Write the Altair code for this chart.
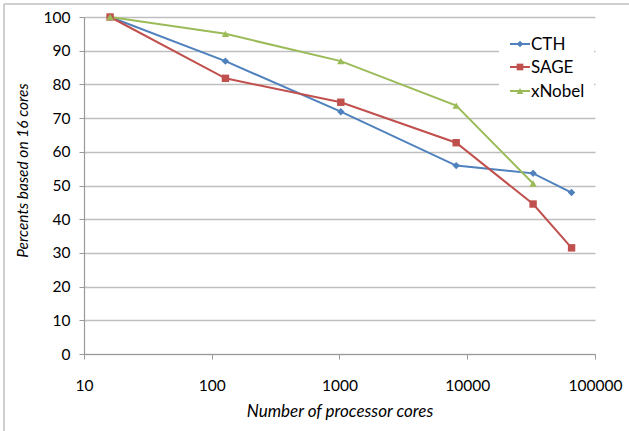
import altair as alt
import pandas as pd

cores = [16, 128, 1024, 8192, 32768, 65536]
cth = [100, 86.9, 71.9, 55.9, 53.6, 47.9]
sage = [100, 81.8, 74.7, 62.7, 44.5, 31.5]
xnobel = [100, 95.0, 86.9, 73.7, 50.6]

series_names = ["CTH", "SAGE", "xNobel"]
series_colors = ["#4F81BD", "#C0504D", "#9BBB59"]
series_shapes = ["diamond", "square", "triangle-up"]
x_ticks = [10, 100, 1000, 10000, 100000]
y_ticks = [0, 10, 20, 30, 40, 50, 60, 70, 80, 90, 100]

rows = []
for name, vals in zip(series_names, [cth, sage, xnobel]):
    for c, v in zip(cores, vals):
        rows.append({"series": name, "cores": c, "pct": v})
df = pd.DataFrame(rows)

FONT = "Lato"
W, H = 511, 337

xenc = alt.X("cores:Q", scale=alt.Scale(type="log", domain=[10, 100000], nice=False),
             axis=alt.Axis(values=x_ticks, format="d", grid=False, domain=True,
                           domainColor="#999999", domainWidth=1.2,
                           tickColor="#999999", tickSize=5, ticks=True,
                           labelFont=FONT, labelFontSize=15.5, labelColor="#000000",
                           labelPadding=19, labelFlush=False, labelOverlap=False,
                           title="Number of processor cores", titleFont=FONT,
                           titleFontSize=17, titleFontStyle="italic",
                           titleFontWeight="normal", titleColor="#000000",
                           titlePadding=10))
yenc = alt.Y("pct:Q", scale=alt.Scale(domain=[0, 100], nice=False),
             axis=alt.Axis(values=y_ticks, grid=True, gridColor="#BFBFBF", gridWidth=1.3,
                           domain=True, domainColor="#999999", domainWidth=1.2,
                           tickColor="#999999", tickSize=5, labelOverlap=False,
                           labelFont=FONT, labelFontSize=15.5, labelColor="#000000",
                           labelPadding=9,
                           title="Percents based on 16 cores", titleFont=FONT,
                           titleFontSize=15.5, titleFontStyle="italic",
                           titleFontWeight="normal", titleColor="#000000",
                           titleX=-62, titleY=153, titleAlign="center", titleBaseline="middle"))

color = alt.Color("series:N", scale=alt.Scale(domain=series_names, range=series_colors), legend=None)
shape = alt.Shape("series:N", scale=alt.Scale(domain=series_names, range=series_shapes), legend=None)

lines = alt.Chart(df).mark_line(strokeWidth=2).encode(x=xenc, y=yenc, color=color, detail="series:N")
points = alt.Chart(df).mark_point(filled=True, size=55, opacity=1).encode(
    x=xenc, y=yenc, color=color, shape=shape)

layers = [lines, points]

# legend box
leg_bg = alt.Chart(pd.DataFrame({"a": [0]})).mark_rect(color="white").encode(
    x=alt.value(415), x2=alt.value(W - 1), y=alt.value(15), y2=alt.value(85))
layers.append(leg_bg)
leg_y = [27, 50, 74]
for name, col, shp, yy in zip(series_names, series_colors, series_shapes, leg_y):
    d = pd.DataFrame({"series": [name]})
    layers.append(alt.Chart(d).mark_rule(color=col, strokeWidth=2).encode(
        x=alt.value(426), x2=alt.value(446), y=alt.value(yy)))
    layers.append(alt.Chart(d).mark_point(filled=True, size=45, opacity=1, color=col, shape=shp).encode(
        x=alt.value(436), y=alt.value(yy)))
    layers.append(alt.Chart(d).mark_text(align="left", baseline="middle", font=FONT, fontSize=17,
                                         color="#000000").encode(
        x=alt.value(447), y=alt.value(yy + 1), text="series:N"))

# outer frame (left and top edges visible)
frame = pd.DataFrame({"a": [0]})
layers.append(alt.Chart(frame).mark_rule(color="#BFBFBF", strokeWidth=1.5).encode(
    x=alt.value(-80), y=alt.value(-13), y2=alt.value(H + 100)))
layers.append(alt.Chart(frame).mark_rule(color="#BFBFBF", strokeWidth=1.5).encode(
    x=alt.value(-80), x2=alt.value(W + 100), y=alt.value(-13)))

chart = alt.layer(*layers).properties(
    width=W, height=H,
    autosize=alt.AutoSizeParams(type="none"),
    padding={"left": 84, "top": 17, "right": 34, "bottom": 77},
    background="white",
).configure_view(stroke=None)

chart.save("out.html", embed_options={"renderer": "svg", "actions": False})
